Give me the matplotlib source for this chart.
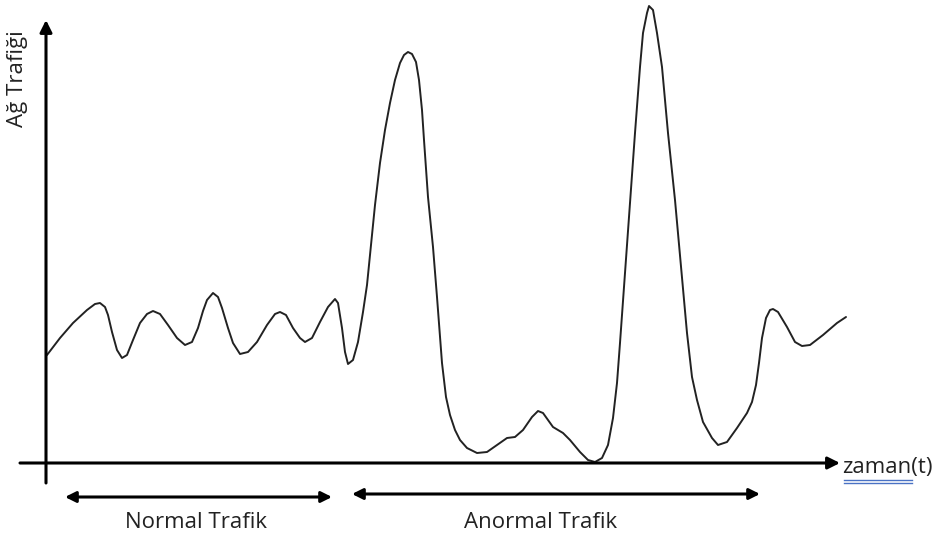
import matplotlib.pyplot as plt

# zaman (x) ve ag trafigi (y) degerleri, resimden okunan noktalar
zaman = [47, 60, 73, 87, 95, 100, 105, 108, 112, 117, 122, 127, 133, 140, 147,
         153, 160, 168, 177, 185, 192, 198, 203, 207, 213, 218, 222, 228, 233, 240,
         248, 257, 267, 275, 280, 286, 293, 300, 305, 312, 320, 328, 335, 338,
         342, 345, 348, 353, 358, 363, 367, 371, 375, 380, 385, 390, 395, 400,
         404, 408, 412, 416, 419, 422, 424, 428, 433, 437, 440, 442, 446, 450,
         455, 460, 467, 477, 487, 497, 507, 515, 523, 532, 538, 543, 553, 563,
         570, 580, 588, 595, 602, 608, 613, 617, 620, 625, 630, 635, 640, 643,
         647, 649, 653, 657, 662, 668, 675, 681, 687, 692, 697, 703, 712, 718,
         727, 737, 747, 752, 756, 759, 762, 766, 770, 773, 778, 787, 795, 802, 810,
         823, 837, 846]
trafik = [108, 125, 140, 153, 159, 160, 156, 148, 131, 113, 105, 108, 123, 140,
          149, 152, 149, 138, 125, 118, 121, 135, 152, 163, 170, 166, 155, 135, 120,
          109, 111, 121, 138, 149, 151, 148, 135, 125, 121, 125, 141, 156, 164,
          160, 135, 111, 99, 103, 121, 151, 178, 218, 258, 300, 333, 360, 383,
          400, 408, 411, 409, 401, 383, 353, 323, 266, 216, 166, 126, 100, 66,
          48, 33, 23, 15, 10, 11, 18, 25, 26, 33, 46, 52, 50, 36, 30, 23, 11, 3,
          1, 5, 18, 45, 80, 120, 190, 260, 330, 396, 430, 450, 457, 453, 430,
          396, 330, 263, 196, 130, 86, 63, 41, 25, 18, 21, 35, 50, 61, 78, 100,
          125, 145, 153, 154, 151, 136, 121, 117, 118, 128, 140, 146]

normal_aralik = (65, 332)
anormal_aralik = (352, 760)

fig = plt.figure(figsize=(9.41, 5.41), dpi=100)
ax = fig.add_axes([0, 0, 1, 1])
ax.set_xlim(0, 941)
ax.set_ylim(-78, 463)
ax.axis('off')

ax.plot(zaman, trafik, color='#222222', linewidth=1.4,
        solid_joinstyle='round', solid_capstyle='round')

# eksenler
ok = dict(arrowstyle='-|>', color='black', lw=2.2, mutation_scale=18,
          shrinkA=0, shrinkB=0)
ax.annotate('', xy=(46, 443), xytext=(46, -20), arrowprops=ok)
ax.annotate('', xy=(840, 0), xytext=(20, 0), arrowprops=ok)

# cift yonlu oklar
cift = dict(arrowstyle='<|-|>', color='black', lw=2.2, mutation_scale=16,
            shrinkA=0, shrinkB=0)
ax.annotate('', xy=(normal_aralik[1], -34), xytext=(normal_aralik[0], -34),
            arrowprops=cift)
ax.annotate('', xy=(anormal_aralik[1], -31), xytext=(anormal_aralik[0], -31),
            arrowprops=cift)

yazi = dict(family='Open Sans', color='#222222', fontsize=16)
ax.text(196, -60, 'Normal Trafik', ha='center', va='center', **yazi)
ax.text(541, -60, 'Anormal Trafik', ha='center', va='center', **yazi)
ax.text(18, 384, 'Ağ Trafiği', rotation=90, ha='center', va='center', **yazi)
ax.text(842, -5, 'zaman(t)', ha='left', va='center', **yazi)

# yazim denetimi alt cizgisi
ax.plot([844, 912], [-17, -17], color='#4a72c4', linewidth=1.0)
ax.plot([844, 912], [-20, -20], color='#4a72c4', linewidth=1.0)

fig.savefig('out.png', dpi=100)
